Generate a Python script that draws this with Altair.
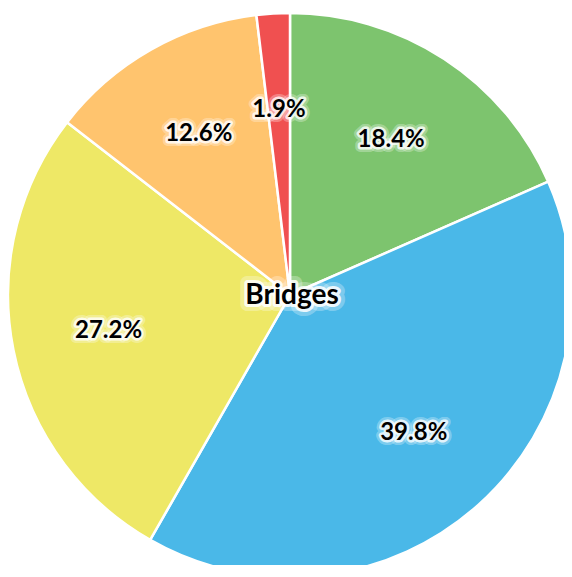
import altair as alt
import pandas as pd

categories = ["A", "B", "C", "D", "E"]
values = [18.4, 39.8, 27.2, 12.6, 1.9]
labels = ["18.4%", "39.8%", "27.2%", "12.6%", "1.9%"]
colors = ["#7DC46E", "#4AB8E8", "#EEE866", "#FFC46E", "#F05050"]
center_title = "Bridges"

df = pd.DataFrame({
    "cat": categories,
    "value": values,
    "label": labels,
    "order": list(range(len(categories))),
})

W, H = 556, 557
CX, CY = 282, 287
R = 282
LR = 185

base = alt.Chart(df).encode(
    theta=alt.Theta("value:Q", stack=True),
    order=alt.Order("order:Q"),
    x=alt.value(CX),
    y=alt.value(CY),
)

arcs = base.mark_arc(radius=R, stroke="white", strokeWidth=2.5).encode(
    color=alt.Color("cat:N", scale=alt.Scale(domain=categories, range=colors), legend=None)
)

font = "Lato"
FS = 24
halo1 = base.mark_text(radius=LR, font=font, fontWeight="bold", fontSize=FS,
                       stroke="white", strokeWidth=10, strokeOpacity=0.3,
                       strokeJoin="round", fill="white").encode(text="label:N")
halo2 = base.mark_text(radius=LR, font=font, fontWeight="bold", fontSize=FS,
                       stroke="white", strokeWidth=5, strokeOpacity=0.8,
                       strokeJoin="round", fill="white").encode(text="label:N")
txt = base.mark_text(radius=LR, font=font, fontWeight="bold", fontSize=FS,
                     fill="black").encode(text="label:N")

tdf = pd.DataFrame({"t": [center_title]})
tbase = alt.Chart(tdf).encode(text="t:N", x=alt.value(CX + 2), y=alt.value(CY + 1))
TFS = 28
t_halo1 = tbase.mark_text(font=font, fontWeight="bold", fontSize=TFS, stroke="white",
                          strokeWidth=14, strokeOpacity=0.3, strokeJoin="round", fill="white")
t_halo2 = tbase.mark_text(font=font, fontWeight="bold", fontSize=TFS, stroke="white",
                          strokeWidth=6, strokeOpacity=0.85, strokeJoin="round", fill="white")
t_txt = tbase.mark_text(font=font, fontWeight="bold", fontSize=TFS, fill="black")

chart = alt.layer(arcs, halo1, halo2, txt, t_halo1, t_halo2, t_txt).properties(
    width=W, height=H, autosize=alt.AutoSizeParams(type="none"), padding=0
).configure_view(stroke=None)

chart.save("out.html", embed_options={"renderer": "svg", "actions": False})
